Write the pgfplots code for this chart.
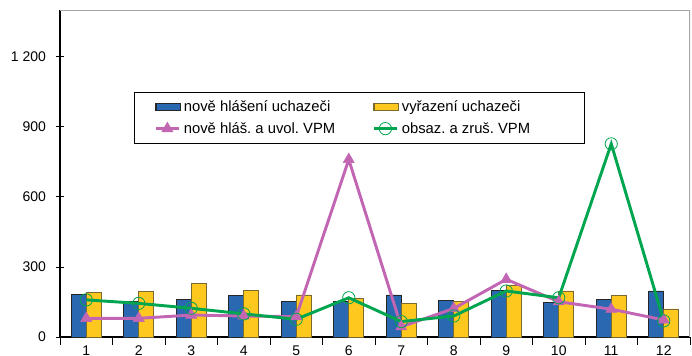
\documentclass[border=0pt]{standalone}
\usepackage{fontspec}
\setmainfont{Liberation Sans}
\usepackage{pgfplots}
\pgfplotsset{compat=1.18}
\frenchspacing
\definecolor{cblue}{HTML}{2A68B2}
\definecolor{cyellow}{HTML}{FFC81E}
\definecolor{cpink}{HTML}{C266B4}
\definecolor{cgreen}{HTML}{00A550}
\definecolor{cedge}{HTML}{7A6A30}
\newcommand{\lta}[1]{\makebox[112pt][l]{#1}}
\newcommand{\ltb}[1]{\makebox[120pt][l]{#1}}
\begin{document}
\begin{tikzpicture}
\begin{axis}[
    name=ax,
    scale only axis,
    width=472.5pt, height=245.25pt,
    xmin=0.5, xmax=12.5,
    ymin=0, ymax=1400,
    axis x line*=bottom, axis y line*=left,
    axis line style={black, line width=0.8pt},
    xtick={0.5,1.5,...,12.5},
    x tick label as interval,
    xticklabels={1,2,3,4,5,6,7,8,9,10,11,12},
    ytick={0,300,600,900,1200},
    tick align=center,
    major tick length=6pt,
    tick style={black, line width=0.6pt},
    xtick style={yshift=-3pt},
    yticklabel style={xshift=-4pt},
    ticklabel style={font=\fontsize{10.5}{12}\selectfont},
    /pgf/number format/assume math mode=true,
    /pgf/number format/1000 sep={\ },
    legend columns=2,
    legend style={at={(0.1175,0.749)}, anchor=north west, draw=black, line width=0.8pt,
        inner xsep=15pt, inner ysep=4pt,
        font=\fontsize{11.1}{13}\selectfont,
        nodes={line width=0.4pt},
        /tikz/every even column/.append style={column sep=27.5pt},
        row sep=2.5pt},
]
\addplot[ybar, bar width=11.25pt, bar shift=-5.625pt, fill=cblue, draw=black!85, line width=0.6pt,
    legend image code/.code={\draw[fill=cblue, draw=black!85, line width=0.8pt] (0pt,-2.6pt) rectangle (18.5pt,2.6pt);}]
coordinates {(1,184) (2,151) (3,159) (4,176) (5,154) (6,151) (7,180) (8,156) (9,198) (10,147) (11,161) (12,197)};
\addlegendentry{\lta{nově hlášení uchazeči}}
\addplot[ybar, bar width=11.25pt, bar shift=5.625pt, fill=cyellow, draw=cedge, line width=0.6pt,
    legend image code/.code={\draw[fill=cyellow, draw=cedge, line width=0.8pt] (0pt,-2.6pt) rectangle (18.5pt,2.6pt);}]
coordinates {(1,191) (2,194) (3,230) (4,200) (5,180) (6,166) (7,144) (8,154) (9,223) (10,197) (11,177) (12,120)};
\addlegendentry{\ltb{vyřazení uchazeči}}
\addplot[sharp plot, cpink, line width=2.2pt, mark=triangle*, mark size=4.8pt, mark options={solid, line width=0.4pt}]
coordinates {(1,80) (2,80) (3,94) (4,90) (5,87) (6,760) (7,44) (8,122) (9,247) (10,151) (11,119) (12,73)};
\addlegendentry{\lta{nově hláš. a uvol. VPM}}
\addplot[sharp plot, cgreen, line width=2.2pt, mark=o, mark size=4.6pt, mark options={solid, line width=0.6pt, fill=none}]
coordinates {(1,159) (2,144) (3,123) (4,99) (5,76) (6,168) (7,66) (8,90) (9,197) (10,168) (11,827) (12,69)};
\addlegendentry{\ltb{obsaz. a zruš. VPM}}
\draw[gray!70, line width=0.8pt] (rel axis cs:0,1) -- (rel axis cs:1,1) -- (rel axis cs:1,0);
\end{axis}
\pgfresetboundingbox
\path[use as bounding box] ([xshift=-45pt,yshift=-13.5pt]ax.south west) rectangle ([xshift=1.5pt,yshift=7.5pt]ax.north east);
\end{tikzpicture}
\end{document}
